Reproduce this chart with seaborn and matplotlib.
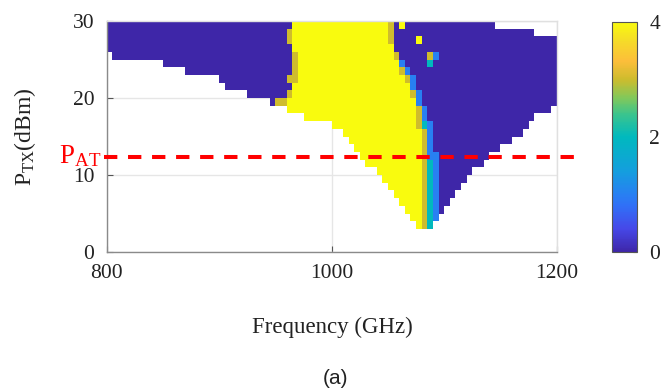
import numpy as np
import pandas as pd
import matplotlib
matplotlib.use("Agg")
import matplotlib.pyplot as plt
import seaborn as sns
from matplotlib.colors import LinearSegmentedColormap

# ---------------- data ----------------
freq_start, freq_step, n_freq = 800, 5, 80          # columns: 800..1195 GHz (5 GHz cells)
n_power = 30                                        # rows: 0..29 dBm (1 dBm cells)

row_power = list(range(29, 2, -1))                  # P = 29 ... 3 dBm (lower edge of cell)
blue_left_start = [800, 800, 800, 800, 805, 850, 870, 900, 905, 925, 945] + [None] * 16
yellow_start = [965] * 10 + [960, 960, 975, 1000, 1010, 1015, 1020, 1025, 1030,
                             1040, 1045, 1050, 1055, 1060, 1065, 1070, 1075]
yellow_end = [1045] * 3 + [1050] * 2 + [1055] * 2 + [1060] + [1065] * 2 + [1070] * 4 + [1075] * 13
transition = ["3", "3", "3", "", "3", "1", "31", "31", "1", "31", "1", "31", "31", "321",
              "31", "31", "31", "311"] + ["321"] * 8 + ["32"]
right_end = [1140, 1175] + [1195] * 9 + [1190, 1175, 1170, 1165, 1155, 1145, 1135, 1130,
                                         1120, 1115, 1110, 1105, 1100, 1095, 1090, 1085]
special_cells = [  # (power, freq, value)
    (28, 960, 3), (27, 960, 3), (25, 965, 3), (24, 965, 3), (23, 965, 3),
    (22, 960, 3), (22, 965, 3), (20, 960, 3), (19, 950, 3), (19, 955, 3),
    (29, 1060, 4), (27, 1075, 4), (25, 1085, 3), (25, 1090, 1), (24, 1085, 2),
]
p_at = 12.4
x_ticks = [800, 1000, 1200]
y_ticks = [0, 10, 20, 30]
cbar_ticks = [0, 2, 4]

# ---------------- build grid ----------------
def col(f):
    return (f - freq_start) // freq_step

M = np.full((n_power, n_freq), np.nan)     # index [P, column]
for i, p in enumerate(row_power):
    start = blue_left_start[i] if blue_left_start[i] is not None else yellow_start[i]
    M[p, col(start):col(right_end[i]) + 1] = 0
    M[p, col(yellow_start[i]):col(yellow_end[i]) + 1] = 4
    for k, ch in enumerate(transition[i]):
        M[p, col(yellow_end[i]) + 1 + k] = int(ch)
for p, f, v in special_cells:
    M[p, col(f)] = v

df = pd.DataFrame(M[::-1], index=list(range(29, -1, -1)),
                  columns=[freq_start + freq_step * j for j in range(n_freq)])

# parula-like colormap
anchors = [
    (0.00, (62, 38, 168)), (0.10, (70, 72, 232)), (0.20, (48, 112, 247)),
    (0.25, (40, 128, 242)), (0.35, (20, 158, 222)), (0.50, (0, 185, 190)),
    (0.60, (60, 196, 140)), (0.67, (130, 200, 90)), (0.75, (205, 188, 45)),
    (0.83, (252, 190, 58)), (0.92, (245, 220, 40)), (1.00, (249, 251, 14)),
]
parula = LinearSegmentedColormap.from_list(
    "parula", [(a, tuple(c / 255 for c in rgb)) for a, rgb in anchors], N=256)

# ---------------- plot ----------------
sns.set_theme(style="white")
plt.rcParams["font.family"] = ["Liberation Serif", "DejaVu Serif"]
plt.rcParams["mathtext.fontset"] = "custom"
plt.rcParams["mathtext.rm"] = "Liberation Serif"
plt.rcParams["mathtext.it"] = "Liberation Serif:italic"
plt.rcParams["lines.scale_dashes"] = False

W, H = 669, 392
fig = plt.figure(figsize=(W / 100, H / 100), dpi=100)
ax = fig.add_axes([106.7 / W, 1 - 252 / H, 450 / W, 231 / H])
cax = fig.add_axes([612.3 / W, 1 - 252 / H, 24.4 / W, 230.3 / H])

sns.heatmap(df, ax=ax, cmap=parula, vmin=0, vmax=4, cbar_ax=cax,
            xticklabels=False, yticklabels=False, linewidths=0)
ax.set_xlabel("")
ax.set_ylabel("")

def fx(f):
    return (f - freq_start) / freq_step

def py(p):
    return n_power - p

ax.set_xlim(0, n_freq)
ax.set_ylim(n_power, 0)
ax.set_xticks([fx(v) for v in x_ticks])
ax.set_xticklabels([str(v) for v in x_ticks])
ax.set_yticks([py(v) for v in y_ticks])
ax.set_yticklabels([str(v) for v in y_ticks])
ax.set_axisbelow(True)
ax.grid(True, color="#e6e6e6", linewidth=1.0)
for name, s in ax.spines.items():
    s.set_visible(True)
    s.set_linewidth(1.0)
    s.set_color("#8a8a8a" if name in ("left", "bottom") else "#e0e0e0")
ax.tick_params(direction="in", length=4, width=0.8, color="#555555",
               labelsize=15.5, pad=9, labelcolor="#222222")
ax.tick_params(axis="x", bottom=True)
ax.tick_params(axis="y", left=True)

# PAT dashed line
ax.plot([fx(797.6), fx(1218)], [py(p_at), py(p_at)], color="#ff0000", lw=2.9,
        dashes=(9.6, 7.7), solid_capstyle="butt", dash_capstyle="butt", clip_on=False, zorder=5)
fig.text(101 / W, 1 - 163 / H, r"P$_{\mathrm{AT}}$", color="#ff0000", fontsize=19.5,
         ha="right", va="baseline")

# labels
fig.text(332 / W, 1 - 327 / H, "Frequency (GHz)", fontsize=16.5, ha="center", va="center",
         color="#222222")
fig.text(25 / W, 1 - 137 / H, r"P$_{\mathrm{TX}}$(dBm)", fontsize=17, ha="center", va="center",
         rotation=90, color="#222222")
fig.text(335 / W, 1 - 378 / H, "(a)", fontsize=15, ha="center", va="center",
         family=["Liberation Sans", "DejaVu Sans"], color="#222222")

# colorbar
cb = ax.collections[0].colorbar
cb.set_ticks(cbar_ticks)
cb.set_ticklabels([str(v) for v in cbar_ticks])
cax.tick_params(direction="in", length=3, width=0.8, color="#555555", labelsize=15.5, pad=9,
                labelcolor="#222222")
cb.outline.set_edgecolor("#555555")
cb.outline.set_linewidth(0.8)

fig.savefig("out.png", dpi=100)
